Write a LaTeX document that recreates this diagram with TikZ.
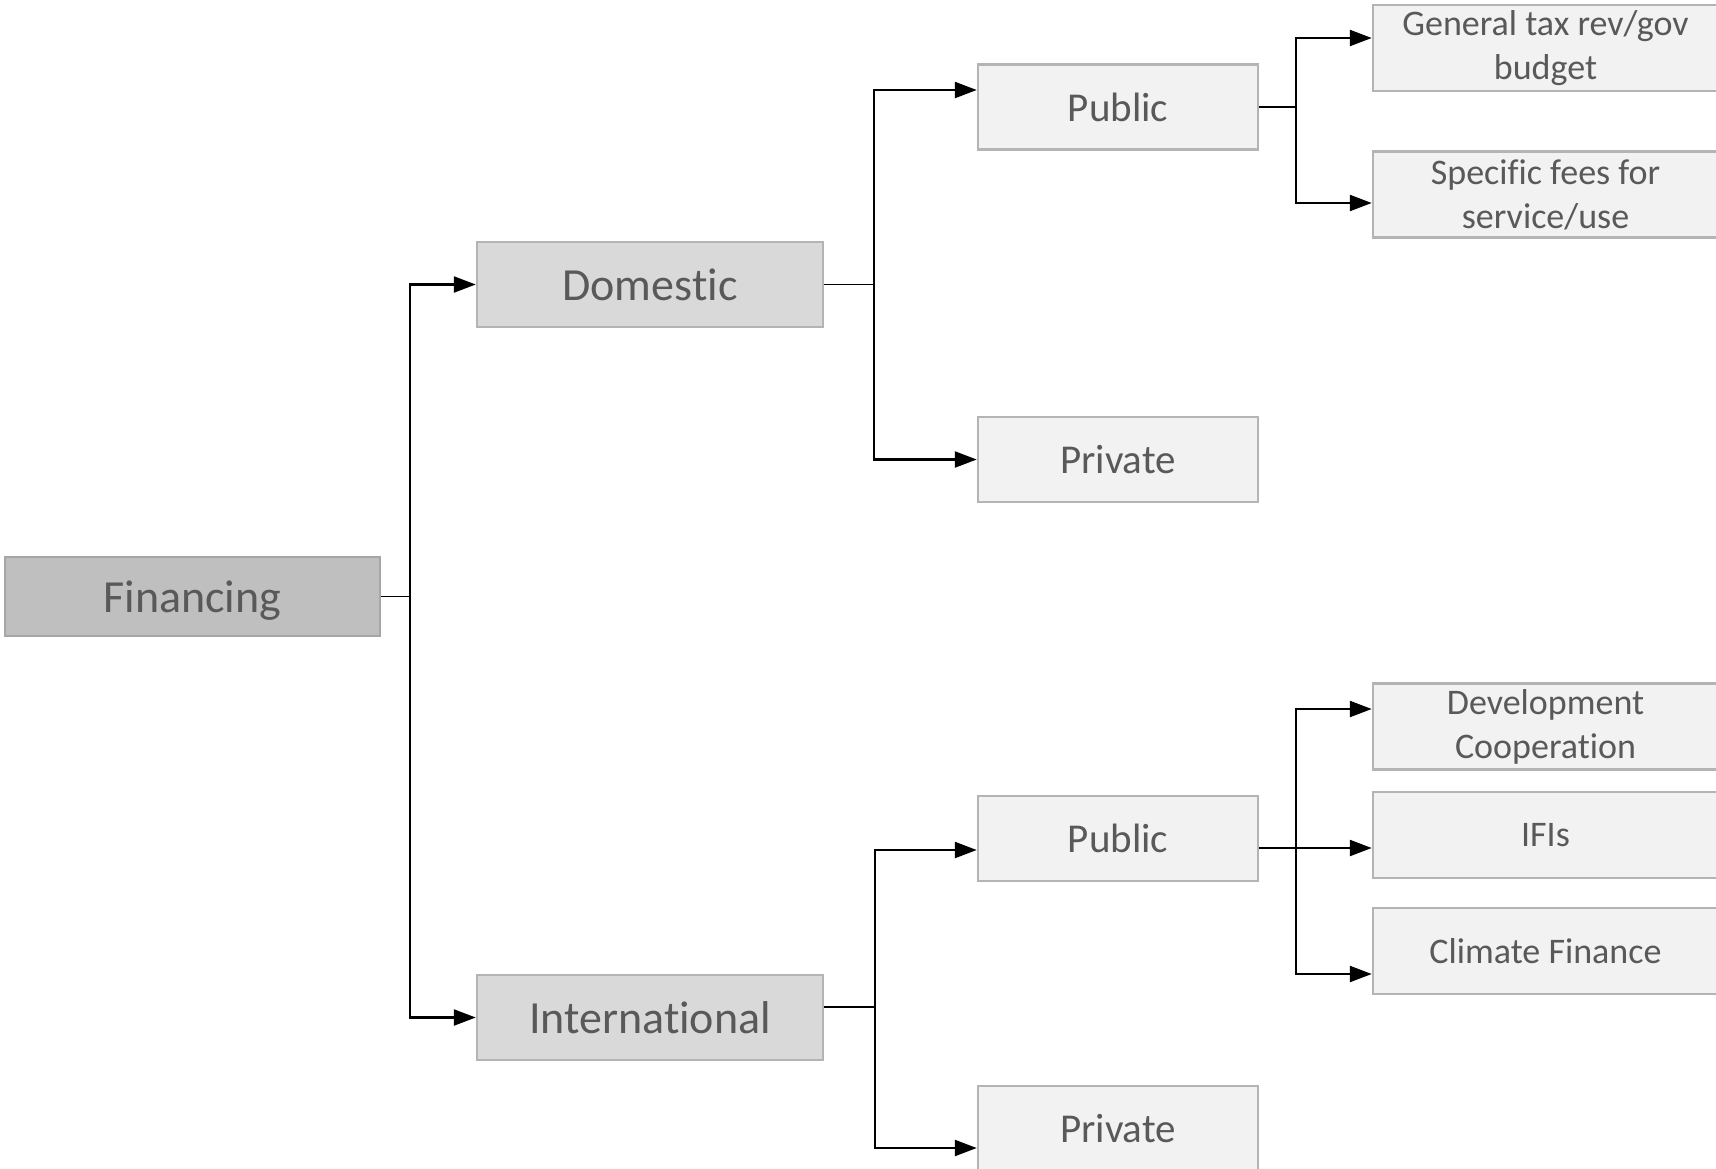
\documentclass[tikz,border=0pt]{standalone}
\usepackage{fontspec}
\setmainfont[RawFeature={-liga,-clig,-dlig,-calt}]{Carlito}
\usetikzlibrary{arrows.meta}
\newcommand{\nolig}{\kern0pt }
\definecolor{txt}{HTML}{595959}
\definecolor{fillA}{HTML}{BFBFBF}
\definecolor{fillB}{HTML}{D9D9D9}
\definecolor{fillC}{HTML}{F2F2F2}
\definecolor{bordA}{HTML}{A6A6A6}
\definecolor{bordB}{HTML}{B4B4B4}
\begin{document}
\begin{tikzpicture}[x=1pt,y=-1pt,
  box/.style={draw=bordB, line width=2.5pt, text=txt, align=center, inner sep=0pt, anchor=center},
  lvla/.style={box, fill=fillA, draw=bordA, minimum width=375pt, minimum height=79pt, text depth=0pt, font=\fontsize{46}{55}\selectfont},
  lvlb/.style={box, fill=fillB, minimum width=346pt, minimum height=85pt, font=\fontsize{46}{55}\selectfont},
  lvlc/.style={box, fill=fillC, minimum width=280pt, minimum height=85pt, font=\fontsize{41}{49}\selectfont},
  lvld/.style={box, fill=fillC, minimum width=345pt, minimum height=86pt, font=\fontsize{36}{44}\selectfont},
  stub/.style={draw=black, line width=1.3pt},
  arr/.style={draw=black, line width=2.4pt, -{Triangle[length=22pt,width=16pt]}}
]
\useasboundingbox (0,0) rectangle (1716,1168);
\begin{scope}
\clip (0,0) rectangle (1716,1168);
\node[lvla] (fin) at (192.5,596.5) {Financing};
\node[lvlb] (dom) at (650,284.5) {Domest\nolig ic};
\node[lvlb] (intl) at (650,1017.5) {Internat\nolig ional};
\node[lvlc] (dpub) at (1118,107) {Public};
\node[lvlc] (dpriv) at (1118,459.5) {Private};
\node[lvlc] (ipub) at (1118,838.5) {Public};
\node[lvlc] (ipriv) at (1118,1128.5) {Private};
\node[lvld] (tax) at (1545.5,48) {General tax rev/gov\\budget};
\node[lvld] (fees) at (1545.5,194.5) {Specif\nolig ic fees for\\service/use};
\node[lvld] (dev) at (1545.5,726.5) {Development\\Cooperat\nolig ion};
\node[lvld] (ifis) at (1545.5,835) {IFIs};
\node[lvld] (clim) at (1545.5,951) {Climate Finance};
\end{scope}

% Financing
\coordinate (t1) at (410,596.5);
\draw[stub] (fin.east) -- (t1);
\draw[arr] (t1) |- (dom.west);
\draw[arr] (t1) |- (intl.west);

% Domestic
\coordinate (t2) at (874,284.5);
\draw[stub] (dom.east) -- (t2);
\draw[arr] (t2) |- ([yshift=17pt]dpub.west);
\draw[arr] (t2) |- (dpriv.west);

% International
\coordinate (t3) at (875,1007);
\draw[stub] ([yshift=10.5pt]intl.east) -- (t3);
\draw[arr] (t3) |- ([yshift=-11.5pt]ipub.west);
\draw[arr] (t3) |- ([yshift=-19.5pt]ipriv.west);

% Domestic public
\coordinate (t4) at (1296,107);
\draw[stub] (dpub.east) -- (t4);
\draw[arr] (t4) |- ([yshift=10pt]tax.west);
\draw[arr] (t4) |- ([yshift=-8.5pt]fees.west);

% International public
\coordinate (t5) at (1296,848);
\draw[stub] ([yshift=-9.5pt]ipub.east) -- (t5);
\draw[arr] (t5) |- ([yshift=17.5pt]dev.west);
\draw[arr] (t5) |- ([yshift=-13pt]ifis.west);
\draw[arr] (t5) |- ([yshift=-23pt]clim.west);
\end{tikzpicture}
\end{document}
